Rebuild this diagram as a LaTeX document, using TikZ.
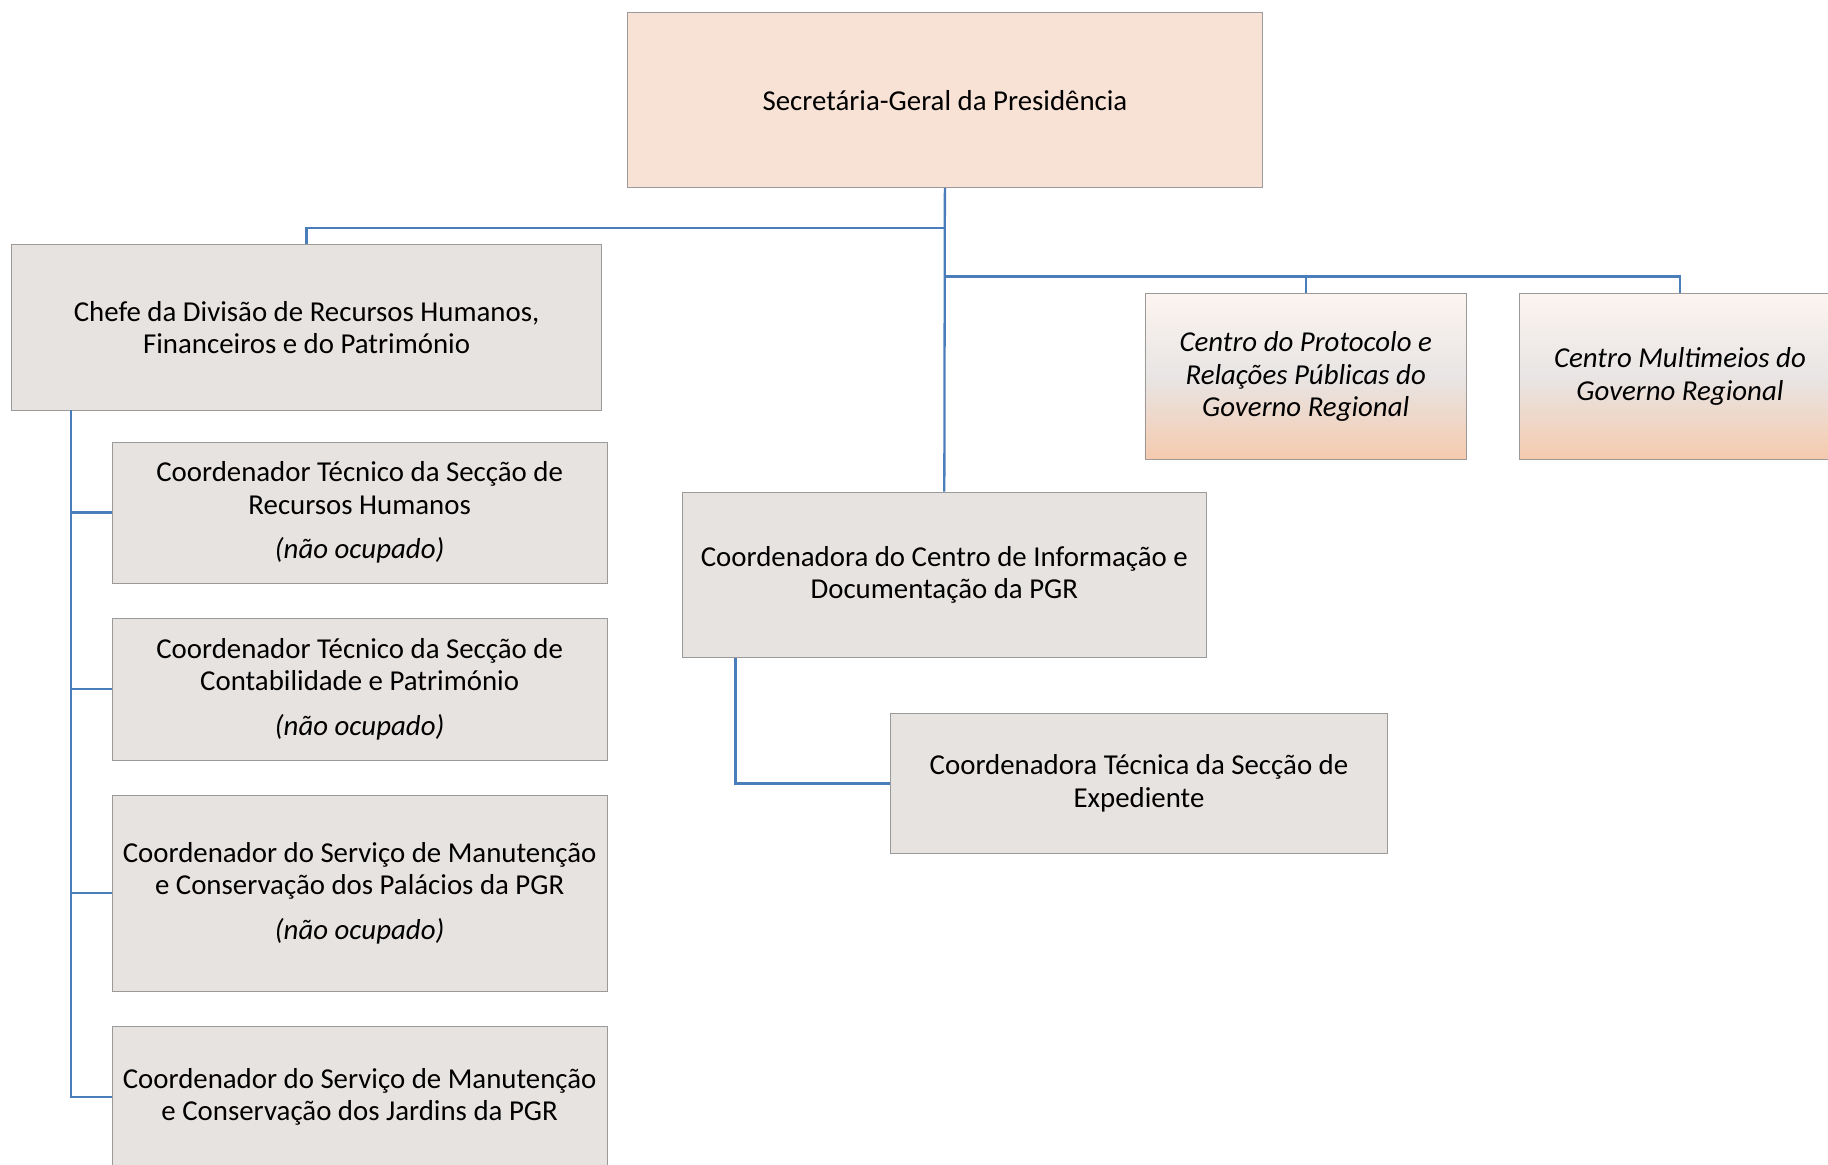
\documentclass[tikz,border=0pt]{standalone}
\usepackage{fontspec}
\setmainfont{Carlito}
\definecolor{boxgray}{HTML}{E7E3E0}
\definecolor{boxpeach}{HTML}{F8E2D5}
\definecolor{boxline}{HTML}{9C9A99}
\definecolor{linkblue}{HTML}{4A7EBB}
\definecolor{shadetop}{HTML}{FCF4F0}
\definecolor{shademid}{HTML}{E8E5E4}
\definecolor{shadebot}{HTML}{F5CAAE}

\begin{document}
\begin{tikzpicture}[
    orgbox/.style={draw=boxline, fill=boxgray, align=center, inner sep=0pt,
      font=\fontsize{17.6}{19.9}\selectfont},
    centrobox/.style={orgbox, top color=shadetop, bottom color=shadebot,
      middle color=shademid, font=\fontsize{17.6}{19.9}\selectfont\itshape},
    link/.style={draw=linkblue, line width=1.4pt}
  ]
    \useasboundingbox (0,0) rectangle (39.2,-24.975);
    \clip (0,0) rectangle (39.2,-24.975);

    %topo
    \node[orgbox, fill=boxpeach, minimum width=13.625cm, minimum height=3.75cm] (sg) at (20.2625,-2.15) {Secretária-Geral da Presidência};

    %divisao
    \node[orgbox, minimum width=12.65cm, minimum height=3.55cm] (chefe) at (6.575,-7.025) {Chefe da Divisão de Recursos Humanos,\\ Financeiros e do Património};
    \node[orgbox, minimum width=10.625cm, minimum height=3.025cm] (c1) at (7.7125,-10.9875) {Coordenador Técnico da Secção de\\ Recursos Humanos\\[7pt] \textit{(não ocupado)}};
    \node[orgbox, minimum width=10.625cm, minimum height=3.05cm] (c2) at (7.7125,-14.775) {Coordenador Técnico da Secção de\\ Contabilidade e Património\\[7pt] \textit{(não ocupado)}};
    \node[orgbox, minimum width=10.625cm, minimum height=4.2cm] (c3) at (7.7125,-19.15) {Coordenador do Serviço de Manutenção\\ e Conservação dos Palácios da PGR\\[7pt] \textit{(não ocupado)}};
    \node[orgbox, minimum width=10.625cm, minimum height=3.05cm] (c4) at (7.7125,-23.525) {Coordenador do Serviço de Manutenção\\ e Conservação dos Jardins da PGR};

    %centro de informacao
    \node[orgbox, minimum width=11.25cm, minimum height=3.55cm] (cid) at (20.25,-12.325) {Coordenadora do Centro de Informação e\\ Documentação da PGR};
    \node[orgbox, minimum width=10.65cm, minimum height=3.0cm] (exp) at (24.425,-16.8) {Coordenadora Técnica da Secção de\\ Expediente};

    %centros
    \node[centrobox, minimum width=6.9cm, minimum height=3.55cm] (prot) at (28.0,-8.075) {Centro do Protocolo e\\ Relações Públicas do\\ Governo Regional};
    \node[centrobox, minimum width=6.9cm, minimum height=3.55cm] (mult) at (36.025,-8.075) {Centro Multimeios do\\ Governo Regional};

    %ligacoes
    \draw[link] (sg.south) -- ++(0,-0.85) -| (chefe.north);
    \draw[link] (sg.south) -- (cid.north);
    \draw[link] (sg.south) ++(0,-1.9) -| (prot.north);
    \draw[link] (sg.south) ++(0,-1.9) -| (mult.north);
    \coordinate (spine) at (1.525,-8.8);
    \draw[link] (spine) |- (c4.west);
    \foreach \c in {c1,c2,c3}
      \draw[link] (spine |- \c.west) -- (\c.west);
    \coordinate (cidfoot) at (15.775,-14.1);
    \draw[link] (cidfoot) |- (exp.west);
\end{tikzpicture}
\end{document}
